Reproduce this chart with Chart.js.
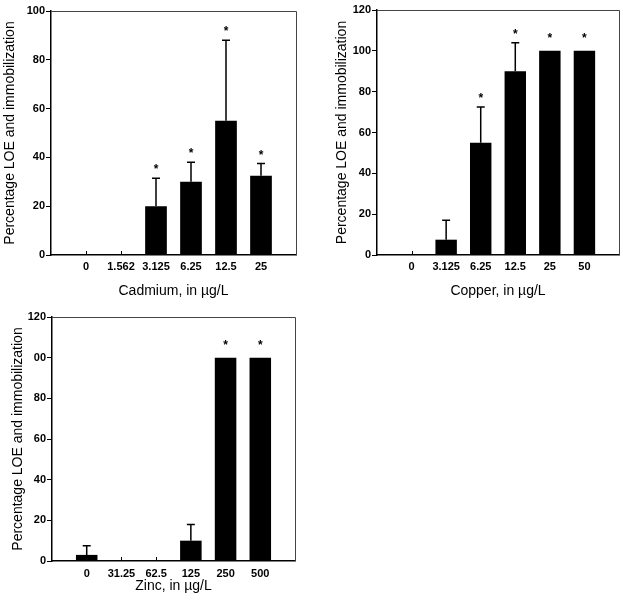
<!DOCTYPE html>
<html>
<head>
<meta charset="utf-8">
<script src="https://cdn.jsdelivr.net/npm/chart.js@4.4.0/dist/chart.umd.min.js"></script>
<style>
  body { margin: 0; background: #fff; }
  #wrap { position: relative; width: 623px; height: 600px; }
  canvas { position: absolute; }
</style>
</head>
<body>
<div id="wrap">
  <canvas id="chartCad" width="310" height="300" style="left:0;top:0"></canvas>
  <canvas id="chartCu" width="313" height="300" style="left:310px;top:0"></canvas>
  <canvas id="chartZn" width="310" height="295" style="left:0;top:300px"></canvas>
</div>
<script>
// Cadmium
const cadLabels = ['0', '1.562', '3.125', '6.25', '12.5', '25'];
const cadValues = [0, 0, 20, 30, 55, 32.5];
const cadErrors = [0, 0, 11.5, 8, 33, 5];
const cadMarks = ['', '', '*', '*', '*', '*'];
const cadYTicks = ['0', '20', '40', '60', '80', '100'];

// Copper
const cuLabels = ['0', '3.125', '6.25', '12.5', '25', '50'];
const cuValues = [0, 7.5, 55, 90, 100, 100];
const cuErrors = [0, 9.5, 17.5, 14, 0, 0];
const cuMarks = ['', '', '*', '*', '*', '*'];
const cuYTicks = ['0', '20', '40', '60', '80', '100', '120'];

// Zinc
const znLabels = ['0', '31.25', '62.5', '125', '250', '500'];
const znValues = [3, 0, 0, 10, 100, 100];
const znErrors = [4.5, 0, 0, 8, 0, 0];
const znMarks = ['', '', '', '', '*', '*'];
const znYTicks = ['0', '20', '40', '60', '80', '00', '120'];

Chart.defaults.font.family = '"Liberation Sans", Arial, sans-serif';
Chart.defaults.color = '#000';

// error bars, asterisks, inward x ticks and the thin top/right frame
const extrasPlugin = {
	id: 'extras',
	beforeDatasetsDraw(chart) {
		const ctx = chart.ctx;
		const x = chart.scales.x;
		const a = chart.chartArea;
		ctx.save();
		ctx.strokeStyle = '#000';
		ctx.lineWidth = 1;
		x.ticks.forEach(function(t){
			const px = Math.round(x.getPixelForValue(t.value)) + 0.5;
			ctx.beginPath();
			ctx.moveTo(px, a.bottom);
			ctx.lineTo(px, a.bottom - 4);
			ctx.stroke();
		});
		ctx.restore();
	},
	afterDatasetsDraw(chart, args, opts) {
		const ctx = chart.ctx;
		const y = chart.scales.y;
		const a = chart.chartArea;
		const meta = chart.getDatasetMeta(0);
		const values = chart.data.datasets[0].data;
		ctx.save();
		ctx.strokeStyle = '#444';
		ctx.lineWidth = 1;
		ctx.beginPath();
		ctx.moveTo(a.left, a.top + 0.5);
		ctx.lineTo(a.right + 0.5, a.top + 0.5);
		ctx.lineTo(a.right + 0.5, a.bottom);
		ctx.stroke();

		ctx.strokeStyle = '#000';
		ctx.lineWidth = 1.5;
		ctx.fillStyle = '#000';
		ctx.font = 'bold 12px "Liberation Sans", Arial, sans-serif';
		ctx.textAlign = 'center';
		ctx.textBaseline = 'alphabetic';
		meta.data.forEach(function(bar, i){
			const v = values[i].y;
			const err = opts.errors[i];
			let top = y.getPixelForValue(v);
			if (err > 0) {
				const et = y.getPixelForValue(v + err);
				ctx.beginPath();
				ctx.moveTo(bar.x, top);
				ctx.lineTo(bar.x, et);
				ctx.moveTo(bar.x - 4, et);
				ctx.lineTo(bar.x + 4, et);
				ctx.stroke();
				top = et;
			}
			if (opts.marks[i]) {
				const off = err > 0 ? 13 : 17;
				ctx.fillText(opts.marks[i], bar.x, top - off + 8);
			}
		});
		ctx.restore();
	}
};

function makeChart(el, cfg) {
	const data = cfg.values.map(function(v, i){ return {x: i, y: v}; });
	return new Chart(el, {
		type: 'bar',
		data: {
			datasets: [{
				data: data,
				backgroundColor: '#000',
				borderWidth: 0,
				categoryPercentage: 1,
				barPercentage: 0.62
			}]
		},
		plugins: [extrasPlugin],
		options: {
			responsive: false,
			animation: false,
			events: [],
			layout: { padding: cfg.padding },
			plugins: {
				legend: { display: false },
				tooltip: { enabled: false },
				extras: { errors: cfg.errors, marks: cfg.marks }
			},
			scales: {
				x: {
					type: 'linear',
					min: -1,
					max: 6,
					offset: false,
					afterBuildTicks: function(scale){
						scale.ticks = cfg.labels.map(function(_, i){ return {value: i}; });
					},
					afterFit: function(scale){ scale.height = cfg.xHeight; },
					grid: { display: false, drawTicks: false, offset: false },
					border: { display: true, color: '#000', width: 1.5 },
					ticks: {
						padding: cfg.xPad,
						maxRotation: 0,
						autoSkip: false,
						font: { size: 11, weight: 'bold' },
						callback: function(v){ return cfg.labels[v]; }
					},
					title: {
						display: true,
						text: cfg.xTitle,
						font: { size: 14 },
						padding: { top: 0, bottom: 0 }
					}
				},
				y: {
					min: 0,
					max: cfg.yMax,
					afterFit: function(scale){ scale.width = cfg.yWidth; },
					grid: { drawOnChartArea: false, drawTicks: true, tickLength: 5, color: '#000' },
					border: { display: true, color: '#000', width: 1.5 },
					ticks: {
						stepSize: 20,
						padding: 1,
						font: { size: 11, weight: 'bold' },
						callback: function(v){ return cfg.yTicks[v / 20]; }
					},
					title: {
						display: true,
						text: 'Percentage LOE and immobilization',
						font: { size: 14 },
						padding: { top: cfg.yTitlePad, bottom: 0 }
					}
				}
			}
		}
	});
}

const cadChart = makeChart(document.getElementById('chartCad'), {
	labels: cadLabels, values: cadValues, errors: cadErrors, marks: cadMarks,
	yTicks: cadYTicks, yMax: 100, xTitle: 'Cadmium, in µg/L',
	padding: { left: 0, right: 14, top: 11, bottom: 0 },
	yWidth: 51, xHeight: 45, xPad: 5, yTitlePad: 2
});

const cuChart = makeChart(document.getElementById('chartCu'), {
	labels: cuLabels, values: cuValues, errors: cuErrors, marks: cuMarks,
	yTicks: cuYTicks, yMax: 120, xTitle: 'Copper, in µg/L',
	padding: { left: 20, right: 4, top: 10, bottom: 0 },
	yWidth: 47, xHeight: 45, xPad: 5, yTitlePad: 4
});

const znChart = makeChart(document.getElementById('chartZn'), {
	labels: znLabels, values: znValues, errors: znErrors, marks: znMarks,
	yTicks: znYTicks, yMax: 120, xTitle: 'Zinc, in µg/L',
	padding: { left: 6, right: 15, top: 17, bottom: 0 },
	yWidth: 46, xHeight: 34, xPad: 6, yTitlePad: 4
});
</script>
</body>
</html>
